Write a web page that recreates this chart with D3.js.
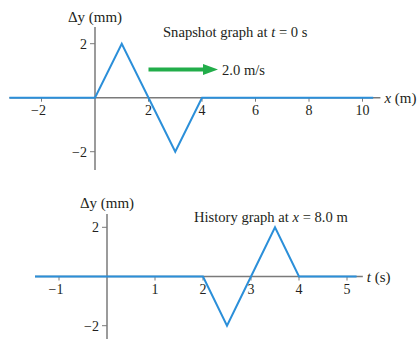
<!DOCTYPE html>
<html>
<head>
<meta charset="utf-8">
<script src="https://cdn.jsdelivr.net/npm/d3@7"></script>
<style>
  html, body { margin: 0; padding: 0; background: #fff; }
  svg { display: block; }
  text { font-family: "Liberation Serif", "Times New Roman", serif; fill: #231f20; }
</style>
</head>
<body>
<svg id="chart" width="417" height="339"></svg>
<script>
// Snapshot graph: displacement along the string at t = 0 s
const snapX = [-3.2, 0, 1, 2, 3, 4, 10.4];
const snapY = [0, 0, 2, 0, -2, 0, 0];
const snapXTicks = [-2, 2, 4, 6, 8, 10];
const snapYTicks = [2, -2];

// History graph: displacement of the point at x = 8.0 m over time
const histT = [-1.5, 2, 2.5, 3, 3.5, 4, 5.2];
const histY = [0, 0, -2, 0, 2, 0, 0];
const histTTicks = [-1, 1, 2, 3, 4, 5];
const histYTicks = [2, -2];

const waveSpeed = 2.0;

const svg = d3.select("#chart");
const axisColor = "#7a7a7a";
const waveColor = "#2b8fd9";
const tickSize = 14;
const labelSize = 15;
const titleSize = 14.6;

function fmt(v) { return v < 0 ? "\u2212" + Math.abs(v) : String(v); }

function panel(opts) {
  const g = svg.append("g");
  const x = d3.scaleLinear().domain(opts.xDomain).range(opts.xRange);
  const y = d3.scaleLinear().domain([-2, 2]).range(opts.yRange);

  // horizontal axis line
  g.append("line")
    .attr("x1", x(opts.axisX[0])).attr("x2", x(opts.axisX[1]))
    .attr("y1", y(0)).attr("y2", y(0))
    .attr("stroke", axisColor).attr("stroke-width", 1.5);
  // vertical axis line
  g.append("line")
    .attr("x1", x(0)).attr("x2", x(0))
    .attr("y1", opts.axisY[0]).attr("y2", opts.axisY[1])
    .attr("stroke", axisColor).attr("stroke-width", 1.5);

  // horizontal ticks and labels
  const xt = g.selectAll(".xt").data(opts.xTicks).enter().append("g");
  xt.append("line")
    .attr("x1", d => x(d)).attr("x2", d => x(d))
    .attr("y1", y(0)).attr("y2", y(0) + 4)
    .attr("stroke", axisColor).attr("stroke-width", 1);
  xt.append("text")
    .attr("x", d => x(d) - (d < 0 ? 3 : 0)).attr("y", y(0) + 17)
    .attr("text-anchor", "middle").attr("font-size", tickSize)
    .text(d => fmt(d));

  // vertical ticks and labels
  const yt = g.selectAll(".yt").data(opts.yTicks).enter().append("g");
  yt.append("line")
    .attr("x1", x(0) - 5).attr("x2", x(0))
    .attr("y1", d => y(d)).attr("y2", d => y(d))
    .attr("stroke", axisColor).attr("stroke-width", 1);
  yt.append("text")
    .attr("x", x(0) - 8).attr("y", d => y(d) + 4.8)
    .attr("text-anchor", "end").attr("font-size", tickSize)
    .text(d => fmt(d));

  // wave trace
  const pts = opts.xs.map((v, i) => [v, opts.ys[i]]);
  g.append("path")
    .attr("d", d3.line().x(d => x(d[0])).y(d => y(d[1]))(pts))
    .attr("fill", "none").attr("stroke", waveColor)
    .attr("stroke-width", 2).attr("stroke-linejoin", "miter");

  // axis titles
  const yl = g.append("text")
    .attr("x", x(0)).attr("y", opts.yLabelY)
    .attr("text-anchor", "middle").attr("font-size", labelSize);
  yl.append("tspan").text("\u0394y (mm)");

  const xl = g.append("text")
    .attr("x", x(opts.axisX[1]) + 4).attr("y", y(0) + 5)
    .attr("font-size", labelSize);
  xl.append("tspan").attr("font-style", "italic").text(opts.xName);
  xl.append("tspan").text(" (" + opts.xUnit + ")");

  return { g, x, y };
}

const snapPanel = panel({
  xDomain: [0, 10], xRange: [95, 362.5], yRange: [151.7, 43.7],
  axisX: [-3.2, 10.67], axisY: [27, 170],
  xTicks: snapXTicks, yTicks: snapYTicks,
  xs: snapX, ys: snapY, yLabelY: 21.5, xName: "x", xUnit: "m"
});

const histPanel = panel({
  xDomain: [0, 5], xRange: [107, 347], yRange: [325.7, 227.3],
  axisX: [-1.5, 5.33], axisY: [214, 339],
  xTicks: histTTicks, yTicks: histYTicks,
  xs: histT, ys: histY, yLabelY: 208, xName: "t", xUnit: "s"
});

// snapshot title
const t1 = svg.append("text").attr("x", 163).attr("y", 36.7).attr("font-size", titleSize);
t1.append("tspan").text("Snapshot graph at ");
t1.append("tspan").attr("font-style", "italic").text("t");
t1.append("tspan").text(" = 0 s");

// velocity arrow
const ay = 69.5;
svg.append("line")
  .attr("x1", snapPanel.x(2)).attr("x2", 205)
  .attr("y1", ay).attr("y2", ay)
  .attr("stroke", "#22ad4a").attr("stroke-width", 4);
svg.append("path")
  .attr("d", `M203,${ay - 5.5} L218,${ay} L203,${ay + 5.5} Z`)
  .attr("fill", "#22ad4a");
svg.append("text").attr("x", 222).attr("y", ay + 5).attr("font-size", titleSize)
  .text(waveSpeed.toFixed(1) + " m/s");

// history title
const t2 = svg.append("text").attr("x", 194).attr("y", 222).attr("font-size", titleSize);
t2.append("tspan").text("History graph at ");
t2.append("tspan").attr("font-style", "italic").text("x");
t2.append("tspan").text(" = 8.0 m");
</script>
</body>
</html>
